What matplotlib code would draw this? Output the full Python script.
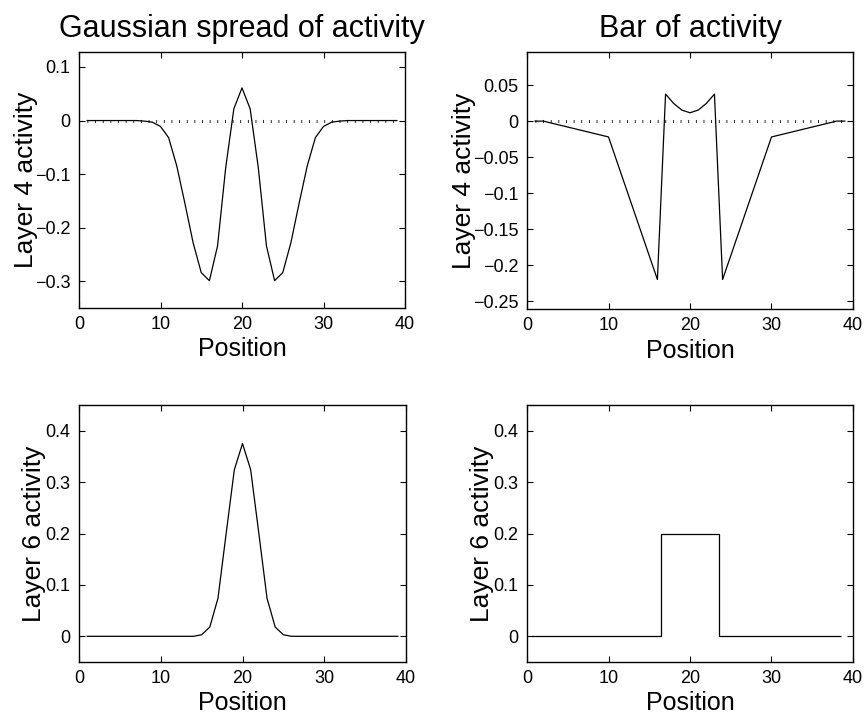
import matplotlib
matplotlib.use("Agg")
import matplotlib.pyplot as plt
import numpy as np

plt.rcParams['font.family'] = ['Liberation Sans', 'DejaVu Sans']
plt.rcParams['lines.scale_dashes'] = False
plt.rcParams['axes.unicode_minus'] = True

# ---- data ----
positions = list(range(1, 40))
gauss_layer4 = [0, 0, 0, 0, 0, 0, 0, -0.001, -0.003, -0.011, -0.032, -0.085, -0.155,
                -0.228, -0.284, -0.299, -0.234, -0.088, 0.022, 0.061, 0.022, -0.088,
                -0.234, -0.299, -0.284, -0.228, -0.155, -0.085, -0.032, -0.011, -0.003,
                -0.001, 0, 0, 0, 0, 0, 0, 0]
gauss_layer6 = [0, 0, 0, 0, 0, 0, 0, 0, 0, 0, 0, 0, 0, 0, 0.003, 0.018, 0.074, 0.2,
                0.324, 0.375, 0.324, 0.2, 0.074, 0.018, 0.003, 0, 0, 0, 0, 0, 0, 0, 0,
                0, 0, 0, 0, 0, 0]
bar_l4_pos = [1, 2, 10, 16, 17, 18, 19, 20, 21, 22, 23, 24, 30, 38, 39]
bar_layer4 = [0, 0, -0.022, -0.22, 0.0375, 0.0245, 0.0153, 0.0116, 0.0153, 0.0245,
              0.0375, -0.22, -0.022, 0, 0]
bar_l6_edges = [p - 0.5 for p in range(1, 40)]
bar_layer6 = [0] * 16 + [0.2] * 7 + [0] * 15

titles = ["Gaussian spread of activity", "Bar of activity"]
xlabel = "Position"
ylabels = ["Layer 4 activity", "Layer 6 activity"]
xticks = [0, 10, 20, 30, 40]
yticks_tl = [-0.3, -0.2, -0.1, 0, 0.1]
yticks_tr = [-0.25, -0.2, -0.15, -0.1, -0.05, 0, 0.05]
yticks_b = [0, 0.1, 0.2, 0.3, 0.4]


def fmt(v):
    s = ("%g" % v)
    return s.replace('-', '\u2212')


fig = plt.figure(figsize=(8.67, 7.19), dpi=100)
W, H = 867, 719


def make_ax(l, r, t, b):
    return fig.add_axes([l / W, 1 - b / H, (r - l) / W, (b - t) / H])


ax_tl = make_ax(79, 405, 52, 308)
ax_tr = make_ax(527, 853, 52, 309)
ax_bl = make_ax(79, 406, 405, 662)
ax_br = make_ax(527, 853, 405, 662)

lw = 0.9
dot_kw = dict(color='black', lw=2.2, dashes=(0.6, 4.9), dash_capstyle='butt')
# top-left
ax_tl.plot([1, 39], [0, 0], **dot_kw)
ax_tl.plot(positions, gauss_layer4, color='black', lw=lw)
ax_tl.set_ylim(-0.35, 0.128)
ax_tl.set_yticks(yticks_tl)
ax_tl.set_yticklabels([fmt(v) for v in yticks_tl])

# top-right
ax_tr.plot([1, 39], [0, 0], **dot_kw)
ax_tr.plot(bar_l4_pos, bar_layer4, color='black', lw=lw)
ax_tr.set_ylim(-0.261, 0.096)
ax_tr.set_yticks(yticks_tr)
ax_tr.set_yticklabels([fmt(v) for v in yticks_tr])

# bottom-left
ax_bl.plot(positions, gauss_layer6, color='black', lw=lw)
ax_bl.set_ylim(-0.05, 0.45)
ax_bl.set_yticks(yticks_b)
ax_bl.set_yticklabels([fmt(v) for v in yticks_b])

# bottom-right
ax_br.stairs(bar_layer6, bar_l6_edges, color='black', lw=lw)
ax_br.set_ylim(-0.05, 0.45)
ax_br.set_yticks(yticks_b)
ax_br.set_yticklabels([fmt(v) for v in yticks_b])

for i, ax in enumerate([ax_tl, ax_tr, ax_bl, ax_br]):
    ax.set_xlim(0, 40)
    ax.set_xticks(xticks)
    ax.set_xticklabels([str(v) for v in xticks])
    ax.tick_params(direction='in', length=4, width=0.8, top=True, right=True,
                   labelsize=13, pad=6)
    for s in ax.spines.values():
        s.set_linewidth(1.0)
    ax.set_xlabel(xlabel, fontsize=18, labelpad=3)
    ax.set_ylabel(ylabels[i // 2], fontsize=19, labelpad=(-2 if i < 2 else 0))
    if i < 2:
        ax.set_title(titles[i], fontsize=22, pad=11)

fig.savefig("out.png", dpi=100)
